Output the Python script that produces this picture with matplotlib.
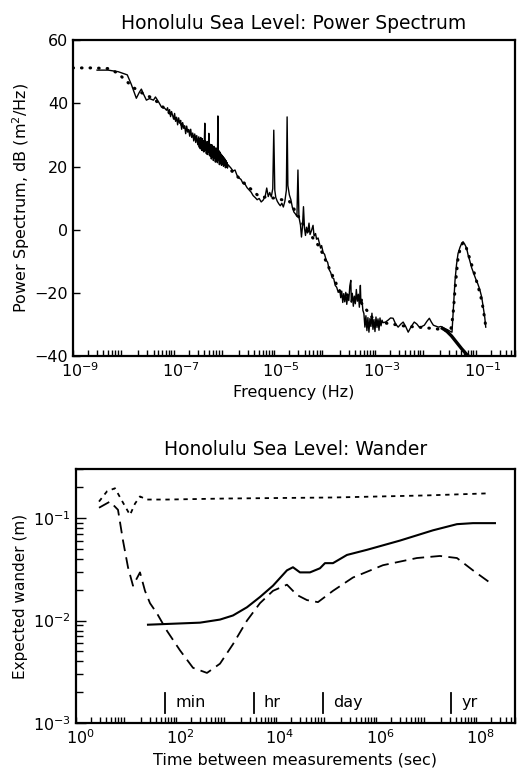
import numpy as np
import matplotlib
matplotlib.use("Agg")
import matplotlib.pyplot as plt
import matplotlib.transforms as mtransforms
from matplotlib.ticker import LogLocator, NullFormatter

# ---- power spectrum (log10 of frequency in Hz, dB) ----
spec_logf = [-8.52, -8.30, -8.10, -7.92, -7.84, -7.74, -7.68, -7.64, -7.60, -7.54, -7.48, -7.40,
             -7.36, -7.30, -7.24, -7.18, -7.14,
             -7.12, -7.10, -7.08, -7.06, -7.04, -7.02, -7.00, -6.98, -6.96, -6.94, -6.92, -6.90,
             -6.88, -6.86, -6.84, -6.82, -6.80, -6.78, -6.76, -6.74, -6.72, -6.70, -6.68, -6.66,
             -6.64, -6.62, -6.60, -6.58, -6.56, -6.54, -6.52,
             -6.50, -6.49, -6.48, -6.47, -6.46, -6.45, -6.44, -6.43, -6.42, -6.41, -6.40, -6.39,
             -6.38, -6.37, -6.36, -6.35, -6.34, -6.33, -6.32, -6.31, -6.30, -6.29, -6.28, -6.27,
             -6.26, -6.25, -6.24, -6.23, -6.22, -6.21, -6.20, -6.19, -6.18, -6.17, -6.16, -6.15,
             -6.14, -6.13, -6.12, -6.11, -6.10, -6.09, -6.08, -6.07, -6.06, -6.05, -6.04, -6.03,
             -6.02, -6.01, -6.00, -5.99, -5.98, -5.97, -5.96, -5.95, -5.94, -5.93, -5.92,
             -5.86, -5.82, -5.78, -5.74, -5.70, -5.66, -5.62, -5.58, -5.54, -5.50, -5.46, -5.42,
             -5.38, -5.34, -5.30, -5.26, -5.22, -5.18, -5.15, -5.12, -5.09, -5.06, -5.03, -5.01,
             -4.99, -4.97, -4.94, -4.91, -4.88, -4.85, -4.82, -4.79, -4.76, -4.745, -4.73, -4.70,
             -4.67, -4.64, -4.61, -4.58, -4.55, -4.53, -4.51, -4.48, -4.46, -4.44, -4.42, -4.40,
             -4.38, -4.36, -4.34, -4.31, -4.29, -4.26, -4.23, -4.21, -4.18, -4.16, -4.13, -4.10,
             -4.08,
             -4.06, -4.03, -4.00, -3.97, -3.94, -3.91, -3.88, -3.85, -3.82, -3.79, -3.76, -3.73,
             -3.70,
             -3.68, -3.66, -3.64, -3.62, -3.60, -3.58, -3.56, -3.54, -3.52, -3.50, -3.48, -3.47,
             -3.45, -3.43, -3.41, -3.39, -3.37, -3.35, -3.33, -3.31, -3.29, -3.28, -3.26, -3.24,
             -3.22, -3.20, -3.18, -3.16, -3.14, -3.12, -3.10, -3.08, -3.06, -3.04, -3.02, -3.00,
             -2.98, -2.96, -2.94, -2.92, -2.90, -2.88, -2.86, -2.84,
             -2.79, -2.74, -2.69, -2.64, -2.59, -2.54, -2.49, -2.44, -2.39, -2.34, -2.28, -2.22,
             -2.17, -2.12, -2.07, -2.02, -1.97, -1.92, -1.88, -1.84, -1.79, -1.74, -1.69, -1.64,
             -1.59, -1.54, -1.50, -1.47,
             -1.44, -1.41, -1.38, -1.35, -1.31, -1.28, -1.25, -1.22, -1.18, -1.15, -1.12, -1.08,
             -1.04, -1.00, -0.96, -0.92, -0.88, -0.85, -0.82, -0.80]
spec_db = [50.5, 50.5, 50.0, 49.0, 46.0, 41.6, 43.5, 44.5, 43.0, 41.0, 41.5, 41.0,
           42.0, 40.5, 38.8, 38.5, 37.8,
           38.6, 36.9, 38.0, 35.8, 37.4, 36.2, 35.0, 36.8, 34.3, 35.6, 33.2, 35.4,
           33.7, 34.6, 31.8, 33.9, 32.1, 32.9, 30.4, 32.8, 30.9, 31.7, 29.6, 31.8,
           29.2, 30.6, 28.1, 30.3, 27.6, 29.8, 26.9,
           29.4, 26.1, 28.9, 25.6, 29.2, 26.4, 25.1, 28.8, 25.0, 28.1, 24.6, 27.6,
           33.7, 25.2, 28.0, 24.1, 27.3, 23.8, 27.9, 24.5, 30.5, 23.6, 27.1, 23.2,
           26.8, 22.4, 26.9, 23.0, 25.8, 21.9, 26.4, 22.6, 25.3, 21.4, 25.9, 21.8,
           24.7, 21.2, 36.0, 21.9, 25.0, 20.6, 24.6, 21.1, 24.0, 20.4, 23.6, 20.9,
           23.2, 20.1, 22.8, 20.5, 22.4, 19.6, 21.9, 19.9, 21.3, 19.5, 20.6,
           19.5, 18.6, 18.9, 17.2, 16.4, 15.9, 14.6, 14.4, 13.3, 12.6, 11.9, 10.8,
           10.2, 9.5, 9.9, 8.8, 9.4, 10.6, 13.2, 10.5, 11.8, 10.4, 13.0, 31.5,
           12.5, 10.2, 9.0, 8.2, 7.6, 8.4, 7.2, 9.0, 12.5, 35.7, 14.0, 11.0,
           9.5, 7.0, 5.6, 5.0, 4.2, 18.9, 4.0, 1.5, -2.3, 1.0, 7.3, 0.5,
           -1.8, 0.8, -1.0, 2.1, -1.5, -0.2, 1.4, -2.0, -1.2, -3.0, -2.6, -4.5,
           -5.8,
           -5.0, -7.2, -7.8, -9.6, -10.3, -12.6, -13.5, -15.2, -15.4, -17.6, -18.2, -19.8,
           -19.0,
           -21.5, -19.4, -23.0, -20.2, -22.8, -19.8, -23.6, -20.6, -22.4, -17.8, -16.0, -22.9,
           -20.1, -24.2, -21.0, -23.4, -18.9, -22.6, -20.4, -24.5, -17.6, -23.0, -22.0, -25.5,
           -26.5, -30.8, -27.2, -31.9, -27.8, -32.4, -28.1, -30.6, -26.4, -31.5, -28.4, -32.2,
           -27.6, -30.9, -28.2, -31.8, -27.9, -30.4, -28.6, -29.4,
           -29.2, -28.6, -27.9, -28.0, -29.8, -30.8, -29.9, -29.2, -30.6, -32.4, -30.6, -29.2,
           -29.8, -30.8, -30.6, -30.2, -29.0, -28.0, -29.2, -30.2, -30.5, -30.8, -30.6, -31.0,
           -31.4, -31.8, -32.2, -32.4,
           -24.0, -16.0, -11.0, -7.5, -5.5, -4.4, -3.8, -4.5, -5.8, -8.0, -9.6, -12.0,
           -13.8, -15.5, -17.0, -18.8, -21.3, -24.5, -27.6, -30.8]

# smooth model spectrum (dotted)
model_logf = [-9.0, -8.6, -8.3, -8.1, -7.98, -7.78, -7.6, -7.4, -7.14, -6.5, -6.0, -5.6, -5.3,
              -5.0, -4.7, -4.4, -4.1, -3.7, -3.3, -3.0, -2.8, -2.4, -2.0, -1.7, -1.5,
              -1.45, -1.4, -1.35, -1.3, -1.25, -1.2, -1.12, -1.04, -0.96, -0.9, -0.85, -0.8]
model_db = [51.2, 51.2, 51.0, 49.5, 47.6, 44.8, 43.0, 41.5, 37.8, 28.2, 21.0, 14.8, 10.5,
            10.0, 9.0, 1.0, -5.5, -19.5, -22.5, -29.0, -29.5, -30.5, -31.0, -31.5, -32.3,
            -27.0, -17.0, -9.0, -5.5, -4.0, -5.0, -9.0, -13.0, -17.5, -21.0, -25.0, -30.5]

# continuum under the wave peak (thick)
cont_logf = [-1.66, -1.58, -1.48, -1.38, -1.28, -1.18, -1.12]
cont_db = [-31.2, -32.0, -33.6, -35.6, -37.6, -39.4, -40.3]

# ---- wander (log10 of seconds, log10 of metres) ----
solid_logt = [1.44, 2.48, 2.88, 3.14, 3.42, 3.68, 3.94, 4.22, 4.34, 4.48, 4.68, 4.88, 4.98,
              5.14, 5.42, 5.82, 6.48, 7.14, 7.62, 7.94, 8.38]
solid_logw = [-2.04, -2.02, -1.99, -1.95, -1.87, -1.77, -1.66, -1.51, -1.48, -1.53, -1.53,
              -1.49, -1.44, -1.44, -1.36, -1.31, -1.22, -1.12, -1.06, -1.05, -1.05]

longdash_logt = [0.46, 0.68, 0.84, 0.94, 1.04, 1.14, 1.28, 1.38, 1.48, 1.62, 1.82, 2.08, 2.34,
                 2.62, 2.88, 3.14, 3.42, 3.68, 3.94, 4.22, 4.42, 4.62, 4.84, 5.14, 5.54, 6.14,
                 6.82, 7.28, 7.62, 7.94, 8.28]
longdash_logw = [-0.90, -0.84, -0.92, -1.22, -1.48, -1.66, -1.53, -1.71, -1.83, -1.93, -2.10,
                 -2.29, -2.46, -2.51, -2.42, -2.23, -2.00, -1.83, -1.71, -1.65, -1.75, -1.80,
                 -1.82, -1.71, -1.58, -1.46, -1.39, -1.37, -1.39, -1.51, -1.63]

shortdash_logt = [0.46, 0.62, 0.78, 0.94, 1.08, 1.18, 1.28, 1.42, 1.82, 3.0, 5.14, 7.0, 8.22]
shortdash_logw = [-0.84, -0.74, -0.71, -0.85, -0.97, -0.86, -0.79, -0.82, -0.82, -0.81,
                  -0.80, -0.78, -0.76]

scale_names = ["min", "hr", "day", "yr"]
scale_secs = [60, 3600, 86400, 3.156e7]

plt.rcParams['font.family'] = 'DejaVu Sans'
fig = plt.figure(figsize=(5.17, 7.71), dpi=100)

# ================= top: power spectrum =================
ax1 = fig.add_axes([0.141, 0.538, 0.855, 0.410])
ax1.plot(10.0 ** np.array(model_logf), model_db, color='black', lw=2.2,
         linestyle=(0, (0.2, 2.6)), dash_capstyle='round')
ax1.plot(10.0 ** np.array(spec_logf), spec_db, color='black', lw=1.0)
ax1.plot(10.0 ** np.array(cont_logf), cont_db, color='black', lw=2.4)
ax1.set_xscale('log')
ax1.set_xlim(1e-9, 10 ** -0.22)
ax1.set_ylim(-40, 60)
ax1.set_yticks([-40, -20, 0, 20, 40, 60])
ax1.set_xticks([1e-9, 1e-7, 1e-5, 1e-3, 1e-1])
ax1.xaxis.set_minor_locator(LogLocator(base=10, subs=np.arange(2, 10), numticks=20))
ax1.xaxis.set_minor_formatter(NullFormatter())
ax1.tick_params(axis='both', which='both', direction='in', labelsize=11.5, width=1)
ax1.tick_params(axis='x', which='both', length=4, top=False)
ax1.tick_params(axis='y', which='major', length=5, right=False)
ax1.set_xlabel('Frequency (Hz)', fontsize=11.5)
ax1.set_ylabel('Power Spectrum, dB (m$^2$/Hz)', fontsize=11.5, labelpad=2)
ax1.set_title('Honolulu Sea Level: Power Spectrum', fontsize=13.5, pad=8)
for s in ax1.spines.values():
    s.set_linewidth(1.6)
# old-style labels: the "10" sits on the tick, the exponent hangs to the right
off1 = mtransforms.ScaledTranslation(0.07, 0, fig.dpi_scale_trans)
for lab in ax1.get_xticklabels():
    lab.set_transform(lab.get_transform() + off1)

# ================= bottom: wander =================
ax2 = fig.add_axes([0.147, 0.062, 0.849, 0.330])
ax2.plot(10.0 ** np.array(solid_logt), 10.0 ** np.array(solid_logw), color='black', lw=1.5)
ax2.plot(10.0 ** np.array(longdash_logt), 10.0 ** np.array(longdash_logw), color='black',
         lw=1.3, linestyle=(0, (6.5, 3.5)))
ax2.plot(10.0 ** np.array(shortdash_logt), 10.0 ** np.array(shortdash_logw), color='black',
         lw=1.3, linestyle=(0, (2.4, 2.6)))
for name, sec in zip(scale_names, scale_secs):
    ax2.plot([sec, sec], [0.00125, 0.00197], color='black', lw=1.3)
    ax2.text(sec * 1.6, 0.00158, name, fontsize=11.5, va='center', ha='left')
ax2.set_xscale('log')
ax2.set_yscale('log')
ax2.set_xlim(1, 10 ** 8.78)
ax2.set_ylim(1e-3, 10 ** -0.52)
ax2.set_xticks([1, 1e2, 1e4, 1e6, 1e8])
ax2.xaxis.set_minor_locator(LogLocator(base=10, subs=np.arange(2, 10), numticks=20))
ax2.xaxis.set_minor_formatter(NullFormatter())
ax2.set_yticks([1e-3, 1e-2, 1e-1])
ax2.yaxis.set_minor_locator(LogLocator(base=10, subs=np.arange(2, 10), numticks=20))
ax2.yaxis.set_minor_formatter(NullFormatter())
ax2.tick_params(axis='both', which='both', direction='in', labelsize=11.5, width=1)
ax2.tick_params(axis='x', which='both', length=4, top=False)
ax2.tick_params(axis='y', which='major', length=7, right=False)
ax2.tick_params(axis='y', which='minor', length=5, right=False)
ax2.set_xlabel('Time between measurements (sec)', fontsize=11.5)
ax2.set_ylabel('Expected wander (m)', fontsize=11)
ax2.set_title('Honolulu Sea Level: Wander', fontsize=13.5, pad=10)
for s in ax2.spines.values():
    s.set_linewidth(1.6)
off2 = mtransforms.ScaledTranslation(0.04, 0, fig.dpi_scale_trans)
for lab in ax2.get_xticklabels():
    lab.set_transform(lab.get_transform() + off2)

fig.savefig('out.png', dpi=100)
